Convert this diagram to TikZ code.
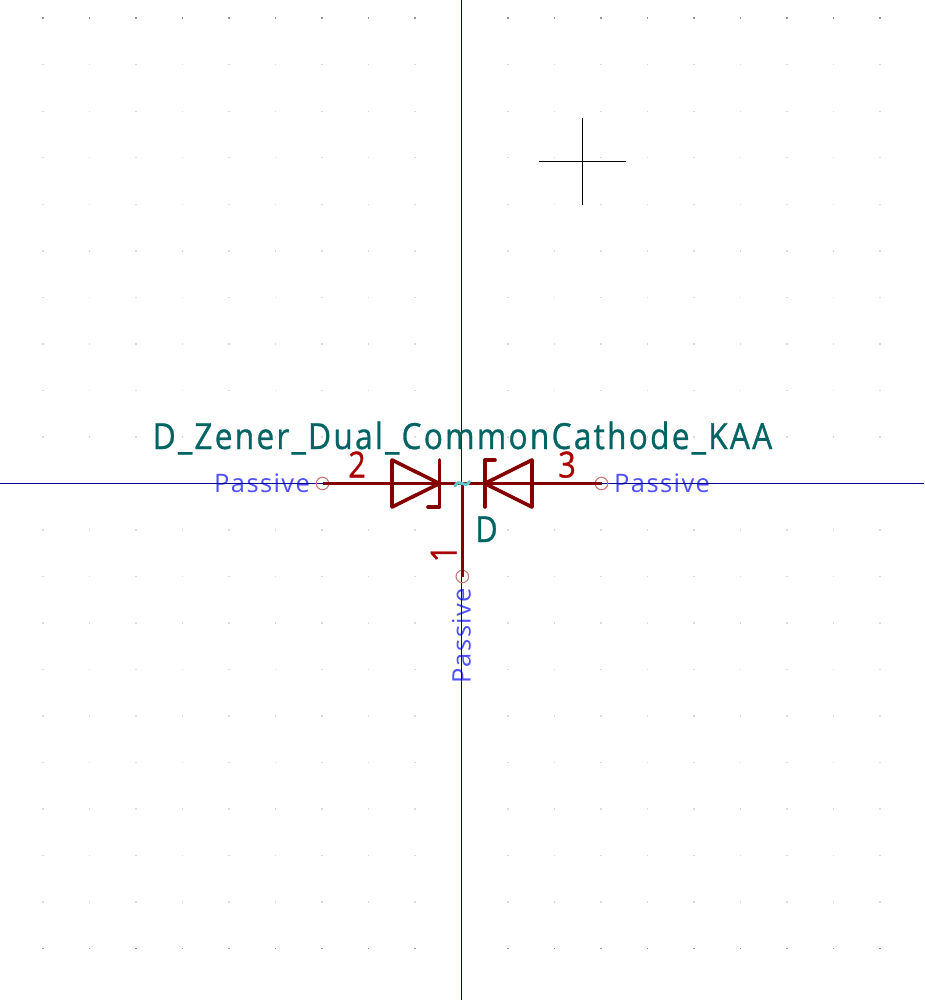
\documentclass[tikz,border=0pt]{standalone}
\usepackage{fontspec}
\setmainfont{Open Sans}
\newfontfamily\titlefont[LetterSpace=6.2,FakeStretch=0.88,RawFeature={embolden=0.8}]{Open Sans}
\newfontfamily\pinfont[LetterSpace=5.5]{Open Sans}
\newfontfamily\symfont[FakeStretch=0.85,RawFeature={embolden=0.8}]{Open Sans}
\definecolor{axisblue}{HTML}{000090}
\definecolor{symred}{HTML}{840000}
\definecolor{numred}{HTML}{A90000}
\definecolor{refteal}{HTML}{006464}
\definecolor{pintype}{HTML}{5050FF}
\definecolor{pinring}{HTML}{C87878}
\definecolor{anchorteal}{HTML}{5FC8C8}
\tikzset{
  axisline/.style={draw=axisblue,line width=1pt},
  cursorline/.style={draw=black,line width=1pt},
  symline/.style={draw=symred,line width=3.6pt,line cap=round,line join=round},
  pinline/.style={draw=symred,line width=3.6pt},
  pinend/.style={circle,draw=pinring,line width=1.1pt,minimum size=12.5pt,inner sep=0pt},
  titletext/.style={text=refteal,inner sep=0pt,font=\titlefont\fontsize{36}{36}\selectfont},
  reftext/.style={text=refteal,inner sep=0pt,font=\symfont\fontsize{36}{36}\selectfont},
  numtext/.style={text=numred,inner sep=0pt,font=\symfont\fontsize{36}{36}\selectfont},
  typetext/.style={text=pintype,inner sep=0pt,font=\pinfont\fontsize{25.5}{25.5}\selectfont},
}
\begin{document}
\begin{tikzpicture}[x=1pt,y=-1pt]
\useasboundingbox[fill=white] (0,0) rectangle (924,1000);
% grid
\foreach \r in {0,...,20}{
  \foreach \c in {0,...,19}{
    \pgfmathsetmacro{\gx}{43+46.5*\c}
    \pgfmathsetmacro{\gy}{18.3+46.5*\r}
    \ifnum\r=0 \fill[gray!85] (\gx-.7,\gy-.8) rectangle (\gx+.7,\gy+.8);
    \else\ifnum\r=20 \fill[gray!85] (\gx-.7,\gy-.8) rectangle (\gx+.7,\gy+.8);
    \else \fill[black!14] (\gx-.7,\gy-.7) rectangle (\gx+.7,\gy+.7);
    \fi\fi
  }
}
% labels under the axes
\node[typetext,anchor=base west] (t2) at (214,492) {Passive};
\node[typetext,anchor=base west] (t3) at (614,492) {Passive};
\node[typetext,anchor=base west,rotate=90] (t1) at (470.5,684) {Passive};
% axes
\coordinate (axL) at (0,483);
\coordinate (axR) at (924,483);
\coordinate (axT) at (461,0);
\coordinate (axB) at (461,1000);
\draw[axisline] (axL) -- (axR);
\draw[axisline] (axT) -- (axB);
% cursor
\coordinate (cuL) at (539,161.7);
\coordinate (cuR) at (626,161.7);
\coordinate (cuT) at (582.7,118);
\coordinate (cuB) at (582.7,205);
\draw[cursorline] (cuL) -- (cuR);
\draw[cursorline] (cuT) -- (cuB);
% name
\node[titletext,anchor=base west] (name) at (152.5,449) {D\_Zener\_Dual\_CommonCathode\_KAA};
% pins
\coordinate (c) at (462.3,483.5);
\node[pinend] (p2) at (322.5,483.5) {};
\node[pinend] (p3) at (601.5,483.5) {};
\node[pinend] (p1) at (462.3,576.5) {};
\draw[pinline] (p2.center) -- (c);
\draw[pinline] (c) -- (p3.center);
\draw[pinline] (c) -- (p1.center);
% diodes
\draw[symline] (392,460) -- (439.5,483.5) -- (392,507) -- cycle;
\draw[symline] (439.5,460) -- (439.5,507) -- (428,507);
\draw[symline] (532,460) -- (484.7,483.5) -- (532,507) -- cycle;
\draw[symline] (484.7,507) -- (484.7,460) -- (495,460);
% anchor mark
\draw[anchorteal,line width=3pt,line cap=round] (455,486) .. controls (459,477) and (465,490) .. (469.5,481.5);
% pin numbers and reference
\node[numtext,anchor=base] (n2) at (357,477.5) {2};
\node[numtext,anchor=base] (n3) at (567,477.5) {3};
\node[numtext,anchor=base,rotate=90] (n1) at (456.5,553.5) {1};
\node[reftext,anchor=base] (ref) at (486.5,542) {D};
\end{tikzpicture}
\end{document}
